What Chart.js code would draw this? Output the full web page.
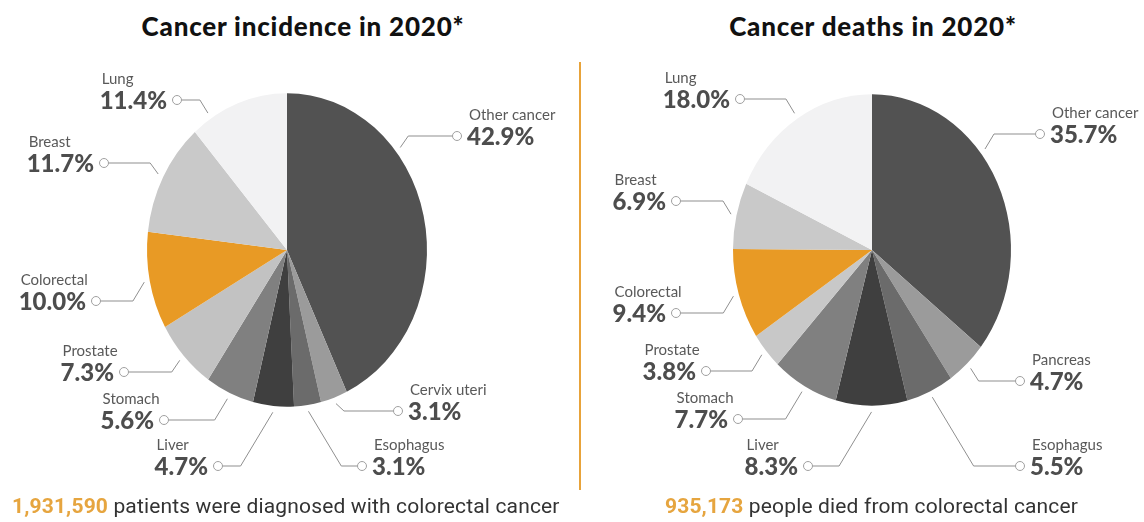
<!DOCTYPE html>
<html>
<head>
<meta charset="utf-8">
<script src="https://cdn.jsdelivr.net/npm/chart.js@4.4.1/dist/chart.umd.min.js"></script>
<style>
  html, body { margin: 0; padding: 0; background: #fff; }
  #page { position: relative; width: 1144px; height: 522px; overflow: hidden; font-family: Lato, 'Open Sans', sans-serif; }
  canvas { position: absolute; top: 0; }
  .title { position: absolute; top: 10px; font-weight: 900; font-size: 26px; letter-spacing: 0.8px; color: #111; white-space: nowrap; transform: translateX(-50%); }
  .divider { position: absolute; left: 579px; top: 62px; width: 2px; height: 428px; background: #e8a33a; }
  .caption { position: absolute; top: 494px; font-family: Roboto, sans-serif; font-size: 21px; letter-spacing: 0.15px; color: #333; white-space: nowrap; }
  .caption b { color: #e6a53f; font-weight: 700; }
</style>
</head>
<body>
<div id="page">
  <div class="title" style="left:303px">Cancer incidence in 2020*</div>
  <div class="title" style="left:873px">Cancer deaths in 2020*</div>
  <canvas id="incidenceChart" width="580" height="522" style="left:0"></canvas>
  <div class="divider"></div>
  <canvas id="deathsChart" width="564" height="522" style="left:580px"></canvas>
  <div class="caption" style="left:12px"><b id="patientsCount"></b> patients were diagnosed with colorectal cancer</div>
  <div class="caption" style="left:665px"><b id="deathsCount"></b> people died from colorectal cancer</div>
</div>
<script>
// Shares in %, clockwise from 12 o'clock
const incidenceCategories = ['Other cancer', 'Cervix uteri', 'Esophagus', 'Liver', 'Stomach', 'Prostate', 'Colorectal', 'Breast', 'Lung'];
const incidenceShares = [42.9, 3.1, 3.1, 4.7, 5.6, 7.3, 10.0, 11.7, 11.4];
const deathCategories = ['Other cancer', 'Pancreas', 'Esophagus', 'Liver', 'Stomach', 'Prostate', 'Colorectal', 'Breast', 'Lung'];
const deathShares = [35.7, 4.7, 5.5, 8.3, 7.7, 3.8, 9.4, 6.9, 18.0];
const colorectalPatients = '1,931,590';
const colorectalDeaths = '935,173';

const incidenceColors = ['#525252', '#9b9b9b', '#6b6b6b', '#3f3f3f', '#808080', '#c2c2c2', '#e89a25', '#c9c9c9', '#f2f2f3'];
const deathColors = ['#525252', '#9b9b9b', '#6b6b6b', '#3f3f3f', '#808080', '#c8c8c8', '#e89a25', '#c9c9c9', '#f2f2f3'];

// where each label's little circle sits (canvas px), which side the text goes,
// and where along the slice the leader line lands (t, 0..1)
const incidenceLabelSpots = [
  { x: 457, y: 136, side: 'right', t: 0.33 },
  { x: 398, y: 411, side: 'right' },
  { x: 362, y: 466, side: 'right' },
  { x: 218, y: 466, side: 'left' },
  { x: 164, y: 420, side: 'left' },
  { x: 124, y: 372, side: 'left' },
  { x: 96, y: 301, side: 'left' },
  { x: 104, y: 163, side: 'left' },
  { x: 177, y: 100, side: 'left', t: 0.2 }
];
const deathLabelSpots = [
  { x: 460, y: 134, side: 'right', t: 0.4 },
  { x: 440, y: 381, side: 'right' },
  { x: 440, y: 466, side: 'right' },
  { x: 228, y: 466, side: 'left' },
  { x: 158, y: 419, side: 'left' },
  { x: 126, y: 371, side: 'left' },
  { x: 96, y: 313, side: 'left' },
  { x: 96, y: 201, side: 'left' },
  { x: 160, y: 99, side: 'left' }
];

const STRETCH_Y = 1.12; // pies in the picture are a bit taller than wide

document.getElementById('patientsCount').innerText = colorectalPatients;
document.getElementById('deathsCount').innerText = colorectalDeaths;

// squash the pie into an upright ellipse
const ellipsePlugin = {
  id: 'ellipse',
  beforeDatasetsDraw(chart) {
    const arc = chart.getDatasetMeta(0).data[0];
    const ctx = chart.ctx;
    ctx.save();
    ctx.translate(arc.x, arc.y);
    ctx.scale(1, STRETCH_Y);
    ctx.translate(-arc.x, -arc.y);
  },
  afterDatasetsDraw(chart) {
    chart.ctx.restore();
  }
};

// name + percentage with a circle and a leader line to the slice
const sliceLabelPlugin = {
  id: 'sliceLabels',
  afterDraw(chart, args, opts) {
    const ctx = chart.ctx;
    const meta = chart.getDatasetMeta(0);
    const labels = chart.data.labels;
    const values = chart.data.datasets[0].data;

    meta.data.forEach((arc, i) => {
      const spot = opts.spots[i];
      const t = spot.t ?? 0.5;
      const a = arc.startAngle + (arc.endAngle - arc.startAngle) * t;
      const r = arc.outerRadius * 1.04;
      const px = arc.x + r * Math.cos(a);
      const py = arc.y + r * STRETCH_Y * Math.sin(a);
      const dir = spot.x < px ? -1 : 1;
      const elbowX = px + dir * Math.max(8, 0.6 * Math.abs(py - spot.y));

      // leader
      ctx.save();
      ctx.strokeStyle = '#8f8f8f';
      ctx.lineWidth = 1;
      ctx.beginPath();
      ctx.moveTo(spot.x + dir * 4, spot.y);
      ctx.lineTo(elbowX, spot.y);
      ctx.lineTo(px, py);
      ctx.stroke();

      ctx.beginPath();
      ctx.arc(spot.x, spot.y, 4.5, 0, Math.PI * 2);
      ctx.fillStyle = '#fff';
      ctx.fill();
      ctx.strokeStyle = '#a0a0a0';
      ctx.stroke();

      // texts
      const pct = values[i].toFixed(1) + '%';
      ctx.font = '900 24px Lato';
      const pctW = ctx.measureText(pct).width;
      const textLeft = spot.side === 'left' ? spot.x - 10 - pctW : spot.x + 10;
      ctx.fillStyle = '#4d4d4d';
      ctx.textBaseline = 'alphabetic';
      ctx.textAlign = 'left';
      ctx.fillText(pct, textLeft, spot.y + 9);

      ctx.font = '15px Lato';
      ctx.fillStyle = '#595959';
      ctx.fillText(labels[i], textLeft + 2, spot.y - 16);
      ctx.restore();
    });
  }
};

function renderPie(canvasId, categories, shares, colors, spots, padding) {
  const ctx = document.getElementById(canvasId).getContext('2d');
  return new Chart(ctx, {
    type: 'pie',
    data: {
      labels: categories,
      datasets: [{
        data: shares,
        backgroundColor: colors,
        borderWidth: 0,
        clip: false
      }]
    },
    options: {
      responsive: false,
      animation: false,
      events: [],
      layout: { padding: padding },
      plugins: {
        legend: { display: false },
        tooltip: { enabled: false },
        sliceLabels: { spots: spots }
      }
    },
    plugins: [ellipsePlugin, sliceLabelPlugin]
  });
}

renderPie('incidenceChart', incidenceCategories, incidenceShares, incidenceColors, incidenceLabelSpots,
  { left: 147, right: 153, top: 110, bottom: 132 });
renderPie('deathsChart', deathCategories, deathShares, deathColors, deathLabelSpots,
  { left: 153, right: 133, top: 111, bottom: 133 });
</script>
</body>
</html>
